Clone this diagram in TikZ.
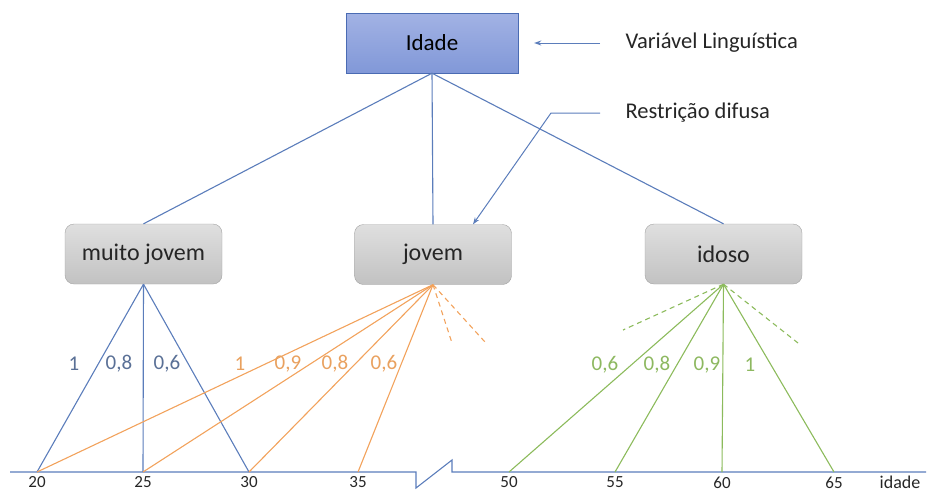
\documentclass[tikz,border=0pt]{standalone}
\usepackage{fontspec}
\setmainfont{Carlito}
\usetikzlibrary{arrows.meta,positioning,calc}

\definecolor{edgeblue}{HTML}{4A6BB3}
\definecolor{filltop}{HTML}{A2B2E4}
\definecolor{fillbot}{HTML}{8198D8}
\definecolor{lineblue}{HTML}{5B7DBB}
\definecolor{txtblue}{HTML}{5A7096}
\definecolor{lineorange}{HTML}{F2A25C}
\definecolor{txtorange}{HTML}{E9A15F}
\definecolor{linegreen}{HTML}{8CBB5C}
\definecolor{txtgreen}{HTML}{8DB860}
\definecolor{edgegray}{HTML}{A3A3A3}

\begin{document}
\begin{tikzpicture}[x=1pt, y=-1pt,
  varbox/.style={draw=edgeblue, top color=filltop, bottom color=fillbot, minimum width=172pt, minimum height=60pt, font=\fontsize{23}{27}\selectfont},
  termbox/.style={draw=edgegray, rounded corners=9pt, top color=gray!25, bottom color=gray!48, minimum width=157pt, minimum height=60pt, font=\fontsize{24}{28}\selectfont, text=black!85},
  note/.style={anchor=west, font=\fontsize{22.5}{26}\selectfont, text=black!85},
  ptr/.style={-{Stealth[length=7pt, width=5pt]}, lineblue, line width=1pt},
  tree/.style={lineblue, line width=1.1pt},
  fan/.style={line width=1.1pt},
  guess/.style={dash pattern=on 5pt off 4pt},
  wgt/.style={font=\fontsize{21}{25}\selectfont},
  tick/.style={inner sep=0pt, font=\fontsize{17}{20}\selectfont, text=black!85},
]
\useasboundingbox (0,0) rectangle (928,491);

% Linguistic variable and its terms
\node[varbox] (idade) at (432,43) {Idade};
\node[termbox] (mjovem) at (143.5,254) {muito jovem};
\node[termbox] (jovem) at (433,254.5) {jovem};
\node[termbox] (idoso) at (723.5,254) {idoso};

\draw[tree] (idade.south) -- (mjovem.north);
\draw[tree] (idade.south) -- (jovem.north);
\draw[tree] (idade.south) -- (idoso.north);

% Side notes
\node[note] (var) at (622,43) {Variável Linguística};
\node[note] (restr) at (622,113) {Restrição difusa};
\draw[ptr] ([xshift=-22pt]var.west) -- ([xshift=16pt]idade.east);
\draw[ptr] ([xshift=-22pt]restr.west) -- ++(-49,0) -- ([xshift=40pt]jovem.north);

% Axis with break
\draw[lineblue, line width=1.1pt] (10,472) -- (416,472) -- (416,488) -- (452,460) -- (452,472) -- (926,472);
\foreach \v/\x in {20/37,25/143,30/249,35/358,50/509,55/615,60/722,65/834}{
  \coordinate (t\v) at (\x,472);
  \node[tick] (n\v) at (\x,482.5) {\v};
}
\node[tick, font=\fontsize{18}{21}\selectfont] (axname) at (900,482) {idade};

% muito jovem
\foreach \v in {20,25,30}
  \draw[fan, lineblue] (mjovem.south) -- (t\v);
\foreach \w/\x in {1/74,{0,8}/119,{0,6}/167}
  \node[wgt, text=txtblue] at (\x,364) {\w};

% jovem
\foreach \v in {20,25,30,35}
  \draw[fan, lineorange] (jovem.south) -- (t\v);
\coordinate (jd1) at (452,343);
\coordinate (jd2) at (485,342);
\draw[fan, lineorange, guess] (jovem.south) -- (jd1);
\draw[fan, lineorange, guess] (jovem.south) -- (jd2);
\foreach \w/\x in {1/240,{0,9}/288,{0,8}/335,{0,6}/384}
  \node[wgt, text=txtorange] at (\x,364) {\w};

% idoso
\foreach \v in {50,55,60,65}
  \draw[fan, linegreen] (idoso.south) -- (t\v);
\coordinate (id1) at (623,330);
\coordinate (id2) at (798,343);
\draw[fan, linegreen, guess] (idoso.south) -- (id1);
\draw[fan, linegreen, guess] (idoso.south) -- (id2);
\foreach \w/\x in {{0,6}/605,{0,8}/657,{0,9}/707,1/750}
  \node[wgt, text=txtgreen] at (\x,365) {\w};

\end{tikzpicture}
\end{document}
